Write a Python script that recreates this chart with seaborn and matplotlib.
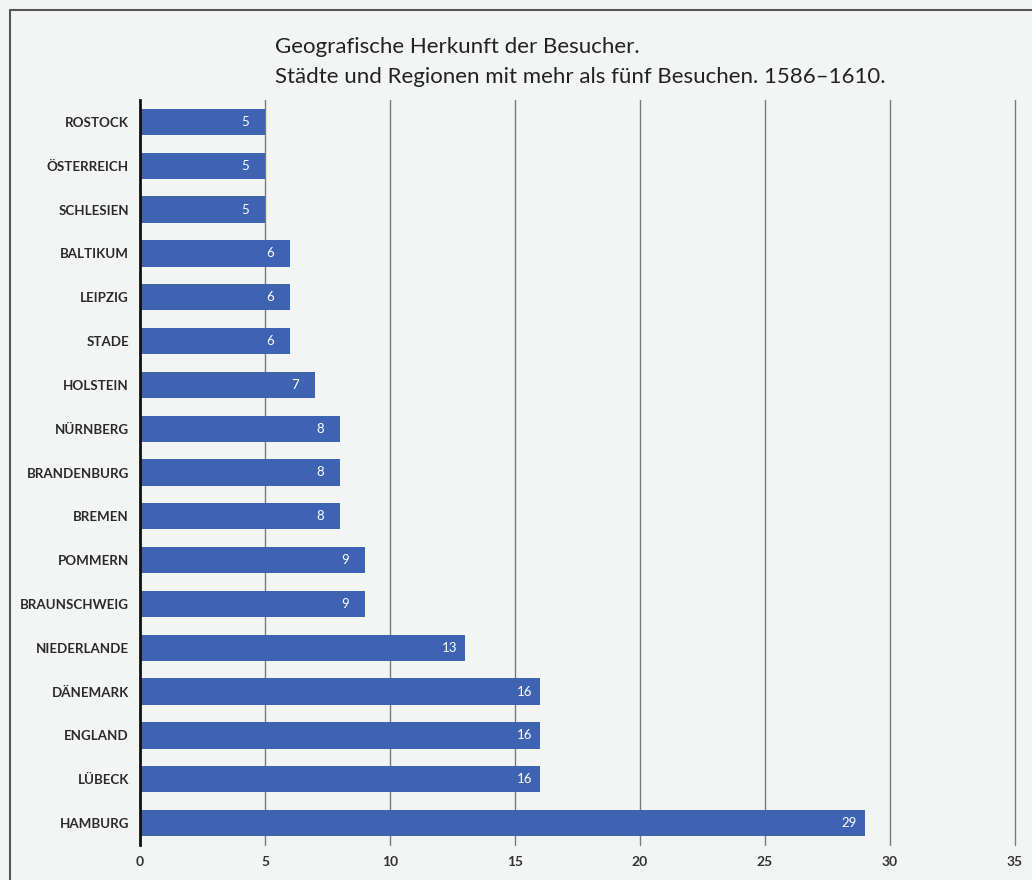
import matplotlib
matplotlib.use("Agg")
import matplotlib.pyplot as plt
import seaborn as sns
import pandas as pd
from matplotlib.lines import Line2D

regions = ["ROSTOCK", "ÖSTERREICH", "SCHLESIEN", "BALTIKUM", "LEIPZIG", "STADE",
           "HOLSTEIN", "NÜRNBERG", "BRANDENBURG", "BREMEN", "POMMERN", "BRAUNSCHWEIG",
           "NIEDERLANDE", "DÄNEMARK", "ENGLAND", "LÜBECK", "HAMBURG"]
visits = [5, 5, 5, 6, 6, 6, 7, 8, 8, 8, 9, 9, 13, 16, 16, 16, 29]
x_ticks = [0, 5, 10, 15, 20, 25, 30, 35]
title_lines = ["Geografische Herkunft der Besucher.",
               "Städte und Regionen mit mehr als fünf Besuchen. 1586–1610."]

df = pd.DataFrame({"region": regions, "visits": visits})

sns.set_theme(style="white")
plt.rcParams["font.family"] = ["Lato", "DejaVu Sans"]

bg = "#f3f5f5"
fig = plt.figure(figsize=(10.32, 8.8), dpi=100, facecolor=bg)
ax = fig.add_axes([140 / 1032, 1 - 845 / 880, 875 / 1032, 745 / 880])
ax.set_facecolor(bg)
ax.set_axisbelow(True)

sns.barplot(data=df, x="visits", y="region", orient="h", color="#3d63b2",
            saturation=1, width=0.6, ax=ax, linewidth=0)
for p in ax.patches:
    p.set_zorder(3)

ax.set_xlim(0, 35)
ax.set_ylim(len(regions) - 0.5, -0.5)
ax.set_xticks(x_ticks)
ax.set_xticklabels([str(t) for t in x_ticks], fontsize=10, color="#333333",
                   fontweight="bold")
ax.set_yticklabels(regions, fontsize=9.6, color="#2a2a2a", fontweight="bold")
ax.tick_params(axis="y", length=0, pad=8)
ax.tick_params(axis="x", length=0, pad=8)
ax.set_xlabel("")
ax.set_ylabel("")

for t in x_ticks[1:]:
    ax.axvline(t, color="#7a7a7a", linewidth=1.0, zorder=1, clip_on=False)

for s in ["top", "right", "bottom"]:
    ax.spines[s].set_visible(False)
ax.spines["left"].set_color("#111111")
ax.spines["left"].set_linewidth(2)
ax.spines["left"].set_zorder(5)

for cont in ax.containers:
    ax.bar_label(cont, labels=[str(v) for v in visits], padding=-17,
                 color="white", fontsize=9.5, label_type="edge")

fig.text(275 / 1032, 1 - 47 / 880, title_lines[0], fontsize=16,
         color="#222222", va="center", ha="left")
fig.text(275 / 1032, 1 - 77 / 880, title_lines[1], fontsize=16,
         color="#222222", va="center", ha="left")

# outer frame
fig.add_artist(Line2D([10 / 1032, 10 / 1032], [0, 1 - 10 / 880],
                      transform=fig.transFigure, color="#555555", linewidth=1.5))
fig.add_artist(Line2D([10 / 1032, 1], [1 - 10 / 880, 1 - 10 / 880],
                      transform=fig.transFigure, color="#555555", linewidth=1.5))

fig.savefig("out.png", dpi=100, facecolor=bg)
